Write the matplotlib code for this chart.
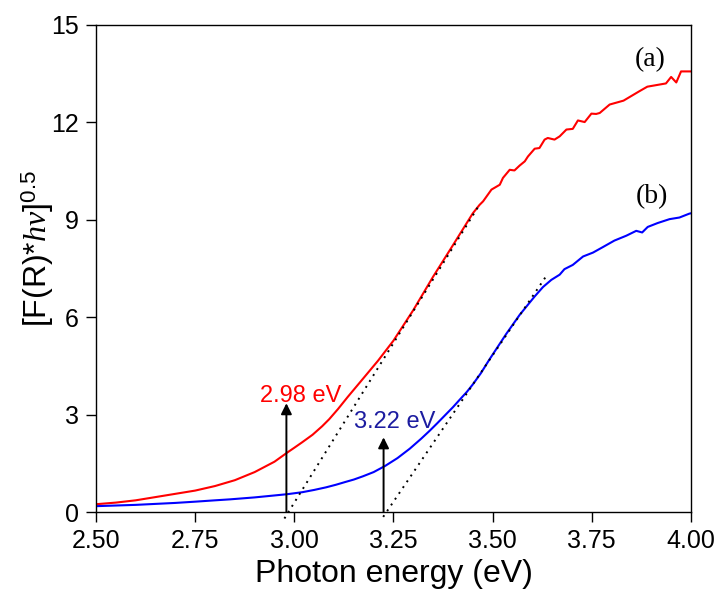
import matplotlib
matplotlib.use('Agg')
import matplotlib.pyplot as plt

plt.rcParams['font.family'] = ['Liberation Sans', 'DejaVu Sans']
plt.rcParams['mathtext.fontset'] = 'custom'
plt.rcParams['mathtext.rm'] = 'Liberation Sans'
plt.rcParams['mathtext.it'] = 'Liberation Serif:italic'

# curve (a)
energy_a = [2.50, 2.55, 2.60, 2.65, 2.70, 2.75, 2.80, 2.85, 2.90, 2.95, 2.982,
            3.00, 3.02, 3.046, 3.07, 3.088, 3.11, 3.135, 3.17, 3.211, 3.25,
            3.30, 3.35, 3.40, 3.45,
            3.467, 3.476, 3.497, 3.518, 3.526, 3.543, 3.555, 3.568, 3.581,
            3.589, 3.606, 3.618, 3.631, 3.639, 3.656, 3.669, 3.686, 3.702,
            3.715, 3.732, 3.749, 3.761, 3.77, 3.795, 3.83, 3.87, 3.89, 3.937,
            3.95, 3.963, 3.975, 4.0]
signal_a = [0.24, 0.29, 0.36, 0.46, 0.56, 0.66, 0.80, 0.98, 1.23, 1.55, 1.83,
            1.98, 2.15, 2.38, 2.64, 2.86, 3.17, 3.55, 4.06, 4.66, 5.28,
            6.22, 7.25, 8.22, 9.20,
            9.46, 9.57, 9.93, 10.08, 10.29, 10.54, 10.52, 10.67, 10.80,
            10.95, 11.19, 11.21, 11.47, 11.52, 11.47, 11.57, 11.78, 11.80,
            12.06, 12.01, 12.27, 12.26, 12.29, 12.55, 12.67, 12.96, 13.10, 13.20,
            13.40, 13.23, 13.57, 13.57]

# curve (b)
energy_b = [2.50, 2.60, 2.70, 2.752, 2.80, 2.838, 2.90, 2.95, 2.983, 3.02, 3.05,
            3.08, 3.105, 3.13, 3.15, 3.173, 3.20, 3.229, 3.26, 3.291, 3.32,
            3.341, 3.36, 3.38, 3.40, 3.417, 3.435, 3.45, 3.47, 3.492, 3.534,
            3.568, 3.606, 3.627, 3.648, 3.669, 3.681, 3.702, 3.728, 3.753,
            3.778, 3.807, 3.837, 3.862, 3.877, 3.891, 3.916, 3.946, 3.971,
            3.996, 4.0]
signal_b = [0.18, 0.22, 0.28, 0.32, 0.36, 0.39, 0.45, 0.51, 0.55, 0.61, 0.68,
            0.76, 0.84, 0.93, 1.00, 1.10, 1.23, 1.42, 1.66, 1.95, 2.26,
            2.50, 2.73, 2.98, 3.23, 3.46, 3.70, 3.93, 4.27, 4.70, 5.48,
            6.07, 6.64, 6.93, 7.15, 7.31, 7.48, 7.61, 7.87, 7.99,
            8.16, 8.36, 8.51, 8.66, 8.61, 8.78, 8.90, 9.02, 9.07,
            9.19, 9.20]

# linear fits (dotted) and band gaps
fit_a_x = [2.975, 3.466]
fit_a_y = [-0.2, 9.45]
fit_b_x = [3.224, 3.637]
fit_b_y = [-0.15, 7.3]
gap_a = 2.98
gap_b = 3.225
arrow_top_a = 3.35
arrow_top_b = 2.3

fig = plt.figure(figsize=(7.22, 6.05), dpi=100)
ax = fig.add_axes([0.133, 0.1537, 0.824, 0.805])

ax.plot(energy_a, signal_a, color='#ff0000', lw=1.5)
ax.plot(energy_b, signal_b, color='#0000ff', lw=1.5)
ax.plot(fit_a_x, fit_a_y, color='black', lw=1.4, ls=(0, (1, 2.6)), clip_on=False)
ax.plot(fit_b_x, fit_b_y, color='black', lw=1.4, ls=(0, (1, 2.6)), clip_on=False)

arrow = dict(arrowstyle='-|>', color='black', lw=1.4, mutation_scale=16, shrinkA=0, shrinkB=0)
ax.annotate('', xy=(gap_a, arrow_top_a), xytext=(gap_a, 0), arrowprops=arrow)
ax.annotate('', xy=(gap_b, arrow_top_b), xytext=(gap_b, 0), arrowprops=arrow)

ax.text(3.015, 3.39, '2.98 eV', color='#ff0000', fontsize=17, ha='center', va='baseline')
ax.text(3.253, 2.58, '3.22 eV', color='#1c1ca0', fontsize=17, ha='center', va='baseline')
ax.text(3.898, 13.73, '(a)', fontsize=20, family='Liberation Serif', ha='center', va='baseline')
ax.text(3.902, 9.52, '(b)', fontsize=20, family='Liberation Serif', ha='center', va='baseline')

ax.set_xlim(2.5, 4.0)
ax.set_ylim(0, 15)
ax.set_xticks([2.5, 2.75, 3.0, 3.25, 3.5, 3.75, 4.0])
ax.set_xticklabels(['2.50', '2.75', '3.00', '3.25', '3.50', '3.75', '4.00'])
ax.set_yticks([0, 3, 6, 9, 12, 15])
ax.tick_params(labelsize=18, length=7, width=1, pad=5.5)
for s in ax.spines.values():
    s.set_linewidth(1)

ax.set_xlabel('Photon energy (eV)', fontsize=23)
ax.set_ylabel(r'[F(R)*$h\nu$]$^{0.5}$', fontsize=23)
ax.yaxis.set_label_coords(-0.068, 0.54)

fig.savefig('out.png', dpi=100)
